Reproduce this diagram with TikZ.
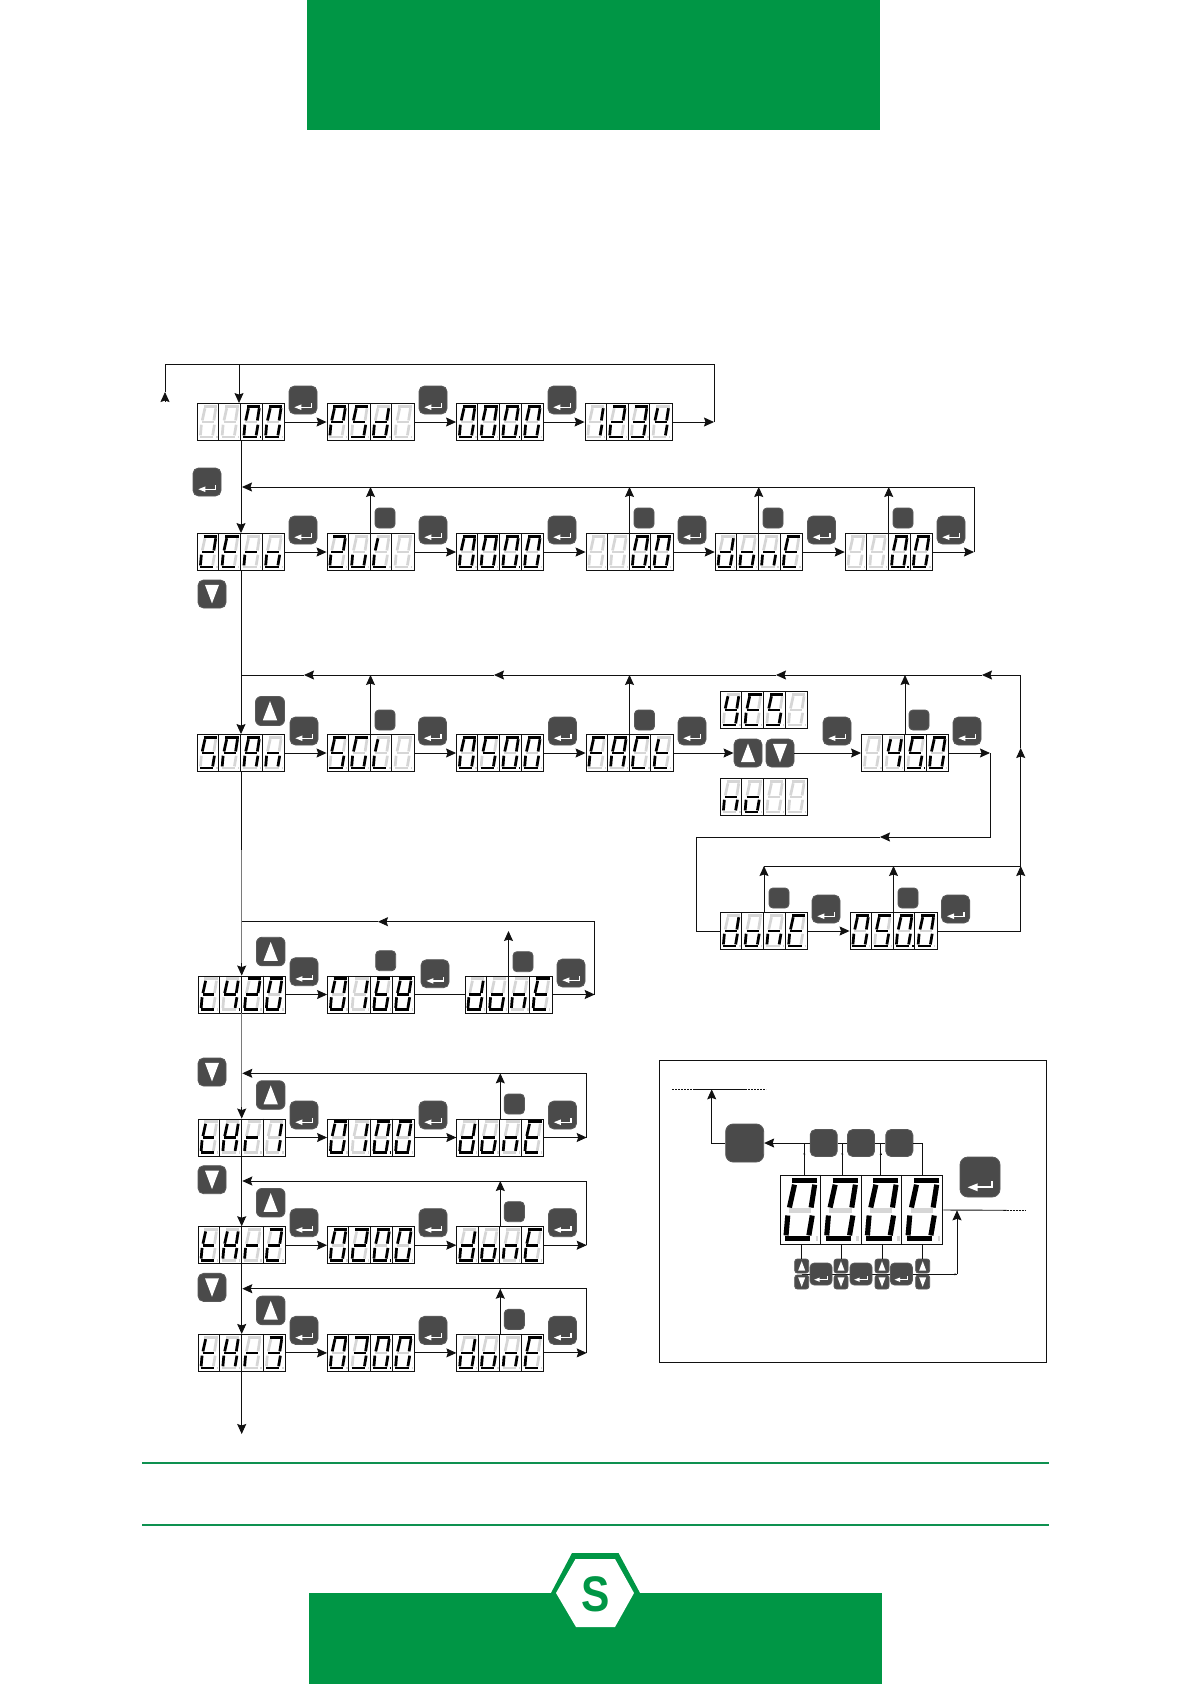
\documentclass[tikz,border=0pt]{standalone}
\usepackage{fontspec}
\usepackage{tikz}
\usetikzlibrary{positioning,arrows.meta,calc,shapes.geometric}
\newfontfamily\logofont{Liberation Sans}
\definecolor{cGreen}{HTML}{009645}
\definecolor{cRule}{HTML}{0E9150}
\definecolor{cKey}{HTML}{4A4A4A}
\definecolor{cOff}{HTML}{D6D6D6}
\definecolor{cInk}{HTML}{111111}
\definecolor{cPale}{HTML}{7A7A7A}
% segments of one cell, origin at its top left
\newcommand{\sega}{(6.6,3.2) -- (19.9,3.2)}
\newcommand{\segb}{(18.7,5.2) -- (16.8,17.4)}
\newcommand{\segc}{(17.4,21.7) -- (15.6,32.3)}
\newcommand{\segd}{(2.9,34) -- (16.3,34)}
\newcommand{\sege}{(4.3,21.7) -- (3.4,32.3)}
\newcommand{\segf}{(7.9,5.2) -- (5.2,17.4)}
\newcommand{\segg}{(4.8,19) -- (16.7,19)}
\newcommand{\segp}{(19.2,34) -- (20.6,34)}
\newcommand{\segn}{(0,0)}
\newcommand{\gNone}{n}
\newcommand{\gO}{a,b,c,d,e,f}
\newcommand{\gOd}{a,b,c,d,e,f,p}
\newcommand{\gOne}{b,c}
\newcommand{\gTwo}{a,b,g,e,d}
\newcommand{\gThree}{a,b,g,c,d}
\newcommand{\gFour}{f,g,b,c}
\newcommand{\gFourd}{f,g,b,c,p}
\newcommand{\gFive}{a,f,g,c,d}
\newcommand{\gFived}{a,f,g,c,d,p}
\newcommand{\gSix}{a,f,g,e,c,d}
\newcommand{\gEight}{a,b,c,d,e,f,g}
\newcommand{\gA}{a,b,c,e,f,g}
\newcommand{\gC}{a,d,e,f}
\newcommand{\gD}{b,c,d,e,g}
\newcommand{\gE}{a,d,e,f,g}
\newcommand{\gF}{a,e,f,g}
\newcommand{\gG}{a,c,d,e,f}
\newcommand{\gH}{b,c,e,f,g}
\newcommand{\gL}{d,e,f}
\newcommand{\gN}{c,e,g}
\newcommand{\gLo}{c,d,e,g}
\newcommand{\gP}{a,b,e,f,g}
\newcommand{\gR}{e,g}
\newcommand{\gT}{d,e,f,g}
\newcommand{\gU}{c,d,e}
\newcommand{\gY}{b,c,d,f,g}
\newcommand{\lcdcell}[2]{%
  \begin{scope}[xshift=#1*21.75pt]
    \foreach \s in {a,b,c,d,e,f,g,p}{\draw[cOff] \csname seg\s\endcsname;}
    \foreach \s in #2 {\draw[black] \csname seg\s\endcsname;}
  \end{scope}}
\newcommand{\lcd}[8][1]{%
  \node[lcdbox,minimum width=#1*87pt,minimum height=#1*37pt] (#2) at (#3,#4) {};
  \begin{scope}[shift={(#2.north west)},scale=#1,line width=#1*2.7pt]
    \lcdcell{0}{#5}\lcdcell{1}{#6}\lcdcell{2}{#7}\lcdcell{3}{#8}
    \foreach \k in {1,2,3}
      \draw[cInk,line width=.9pt] (\k*21.75,0) -- (\k*21.75,37);
  \end{scope}}
\begin{document}
\begin{tikzpicture}[x=1pt,y=-1pt,line width=.9pt,
    lcdbox/.style={draw=cInk,fill=white,inner sep=0pt,line width=.9pt},
    arr/.style={cInk,-{Stealth[length=10pt,width=9pt,inset=1.5pt]}},
    ln/.style={cInk},
    pale/.style={cPale,line width=1.2pt},
    dots/.style={cInk,line width=.6pt,dash pattern=on 2pt off 1pt},
    tiny/.style={cInk,line width=.4pt,-{Stealth[length=2.5pt,width=2pt]}},
    glyph/.style={sharp corners,shift={(path picture bounding box.center)},x=#1*.025pt,y=-#1*.025pt},
    btn/.style={draw=black!65,fill=cKey,inner sep=0pt,minimum size=#1*1pt,rounded corners=#1*.2pt},
    btnenter/.style={btn=#1,path picture={
      \begin{scope}[glyph=#1]
        \fill[white] (-12.3,10.3) -- (-2.3,6.3) -- (-2.3,14.3) -- cycle;
        \draw[white,line width=#1*.05pt] (-3,10.3) -- (12,10.3) -- (12,4);
      \end{scope}}},
    btnup/.style={btn=#1,path picture={
      \begin{scope}[glyph=#1]
        \fill[white] (0,-13.5) -- (10,13) -- (-10,13) -- cycle;
      \end{scope}}},
    btndown/.style={btn=#1,path picture={
      \begin{scope}[glyph=#1]
        \fill[white] (0,13.5) -- (10,-13) -- (-10,-13) -- cycle;
      \end{scope}}}]
  \useasboundingbox (0,0) rectangle (1191,1684);
  \fill[white] (0,0) rectangle (1191,1684);
  % page furniture
  \fill[cGreen] (307,0) rectangle (880,130);
  \fill[cGreen] (309,1593) rectangle (882,1684);
  \draw[cRule,line width=2pt] (142,1463) -- (1049,1463);
  \draw[cRule,line width=2pt] (142,1525) -- (1049,1525);
  \fill[cGreen] (551,1593) -- (572,1553) -- (618.5,1553) -- (640,1593) -- cycle;
  \fill[white] (556,1593) -- (575.5,1559) -- (615,1559) -- (634,1593) -- (615,1627) -- (576,1627) -- cycle;
  \node[text=cGreen,inner sep=0pt,font=\fontsize{50}{50}\logofont\bfseries,xscale=.85] (logoS) at (596,1594) {S};

  % password row
  \lcd{dIdle}{241}{422}{\gNone}{\gNone}{\gOd}{\gO}
  \lcd{dPsd}{370.5}{422}{\gP}{\gFive}{\gD}{\gNone}
  \lcd{dPass}{500}{422}{\gO}{\gO}{\gOd}{\gO}
  \lcd{dCode}{628.5}{422}{\gOne}{\gTwo}{\gThree}{\gFour}
  \foreach \i/\x in {1/303,2/433,3/562}
    \node[btnenter=28] (kPsd\i) at (\x,400) {};
  \node[btnenter=28] (kZero) at (207,482) {};
  \coordinate (cTopL) at (165,364);
  \coordinate (cTopA) at (239,364);
  \coordinate (cTopR) at (714,364);
  \coordinate (cEndP) at (714,422);
  \coordinate (cBack) at (165,392);
  \draw[arr] (dIdle.east) -- (dPsd.west);
  \draw[arr] (dPsd.east) -- (dPass.west);
  \draw[arr] (dPass.east) -- (dCode.west);
  \draw[arr] (dCode.east) -- (cEndP);
  \draw[ln] (cEndP) -- (cTopR) -- (cTopL) -- (cBack);
  \draw[arr] ($(cBack)+(0,10)$) -- (cBack);
  \draw[arr] (cTopA) -- (cTopA |- dIdle.north);

  % zero row
  \lcd{dZero}{241}{552}{\gTwo}{\gE}{\gR}{\gLo}
  \lcd{dZol}{370.5}{552}{\gTwo}{\gU}{\gL}{\gNone}
  \lcd{dZval}{500}{552}{\gO}{\gO}{\gOd}{\gO}
  \lcd{dZnew}{629.5}{552}{\gNone}{\gNone}{\gOd}{\gO}
  \lcd{dZdone}{758.7}{552}{\gD}{\gLo}{\gN}{\gE}
  \lcd{dZend}{888.7}{552}{\gNone}{\gNone}{\gOd}{\gO}
  \foreach \i/\x in {1/303,2/433,3/562,4/692,5/821.5,6/951}
    \node[btnenter=28] (kZ\i) at (\x,530) {};
  \foreach \i/\x in {1/385,2/644,3/773,4/903}
    \node[btn=20] (pZ\i) at (\x,518) {};
  \node[btndown=28] (kSpan) at (212,594) {};
  \coordinate (cZeroR) at (974,552);
  \coordinate (cZeroT) at (974,487);
  \coordinate (cZeroL) at (242,487);
  \draw[arr] (dIdle.south) -- (dZero.north);
  \draw[arr] (dZero.east) -- (dZol.west);
  \draw[arr] (dZol.east) -- (dZval.west);
  \draw[arr] (dZval.east) -- (dZnew.west);
  \draw[arr] (dZnew.east) -- (dZdone.west);
  \draw[arr] (dZdone.east) -- (dZend.west);
  \draw[arr] (dZend.east) -- (cZeroR);
  \draw[arr] (cZeroR) -- (cZeroT) -- (cZeroL);
  \foreach \d in {dZol,dZnew,dZdone,dZend}
    \draw[arr] (\d.north) -- (\d.north |- cZeroL);

  % span row
  \lcd{dSpan}{241}{753}{\gFive}{\gP}{\gA}{\gN}
  \lcd{dSol}{370.5}{753}{\gFive}{\gG}{\gL}{\gNone}
  \lcd{dSval}{500}{753}{\gO}{\gFive}{\gOd}{\gO}
  \lcd{dFact}{629.5}{753}{\gF}{\gA}{\gC}{\gT}
  \lcd{dYes}{764}{710}{\gY}{\gE}{\gFive}{\gNone}
  \lcd{dNo}{764}{797}{\gN}{\gLo}{\gNone}{\gNone}
  \lcd{dFor}{905}{753}{\gNone}{\gFour}{\gFived}{\gO}
  \lcd{dSdone}{764}{931}{\gD}{\gLo}{\gN}{\gE}
  \lcd{dSend}{893.5}{931}{\gO}{\gFive}{\gOd}{\gO}
  \foreach \i/\x in {1/304,2/432.5,3/562.5,4/692,5/837,6/967}
    \node[btnenter=28] (kS\i) at (\x,731) {};
  \foreach \i/\x in {1/385,2/644.5,3/919}
    \node[btn=20] (pS\i) at (\x,720) {};
  \node[btnup=29] (kUpS) at (270,711) {};
  \node[btnup=28] (kYes) at (748,753) {};
  \node[btndown=28] (kNo) at (780,753) {};
  \node[btnenter=28] (kS7) at (826,909) {};
  \node[btnenter=28] (kS8) at (955.6,909) {};
  \node[btn=20] (pS4) at (779,898) {};
  \node[btn=20] (pS5) at (908,898) {};
  \coordinate (cJog) at (990,753);
  \coordinate (cJogB) at (990,837);
  \coordinate (cJogM) at (880,837);
  \coordinate (cJogL) at (696.7,837);
  \coordinate (cLowR) at (1020.7,931);
  \coordinate (cLowM) at (1020.7,866);
  \coordinate (cUpM) at (1020.7,748);
  \coordinate (cUpT) at (1020.7,675);
  \coordinate (cTa) at (982,675);
  \coordinate (cTb) at (776,675);
  \coordinate (cTc) at (494,675);
  \coordinate (cTd) at (304,675);
  \coordinate (cTe) at (241,675);
  \draw[arr] (dZero.south) -- (dSpan.north);
  \draw[arr] (dSpan.east) -- (dSol.west);
  \draw[arr] (dSol.east) -- (dSval.west);
  \draw[arr] (dSval.east) -- (dFact.west);
  \draw[arr] (dFact.east) -- (kYes.west);
  \draw[arr] (kNo.east) -- (dFor.west);
  \draw[arr] (dFor.east) -- (cJog);
  \draw[arr] (cJog) -- (cJogB) -- (cJogM);
  \draw[ln] (cJogM) -- (cJogL) |- (dSdone.west);
  \draw[arr] (dSdone.east) -- (dSend.west);
  \draw[arr] (dSend.east) -- (cLowR) -- (cLowM);
  \draw[arr] (cLowM) -- (cUpM);
  \draw[arr] (cUpM) -- (cUpT) -- (cTa);
  \draw[arr] (cTa) -- (cTb);
  \draw[arr] (cTb) -- (cTc);
  \draw[arr] (cTc) -- (cTd);
  \draw[ln] (cTd) -- (cTe);
  \foreach \d in {dSol,dFact,dFor}
    \draw[arr] (\d.north) -- (\d.north |- cTa);
  \draw[arr] (dSdone.north) -- (dSdone.north |- cLowM);
  \draw[arr] (dSend.north) -- (dSend.north |- cLowM);
  \draw[ln] (dSdone.north |- cLowM) -- (cLowM);

  % t4-20 row
  \lcd{dTf}{241.7}{994.5}{\gT}{\gFourd}{\gTwo}{\gO}
  \lcd{dTval}{371}{994.5}{\gO}{\gOne}{\gSix}{\gEight}
  \lcd{dTdone}{508.5}{994.5}{\gD}{\gLo}{\gN}{\gE}
  \node[btnup=28.5] (kUpT) at (270.7,951.5) {};
  \node[btnenter=28] (kT1) at (304,971.7) {};
  \node[btnenter=28] (kT2) at (435,973.7) {};
  \node[btnenter=28] (kT3) at (571,973) {};
  \node[btn=20] (pT1) at (385.7,960.7) {};
  \node[btn=20] (pT2) at (523,961.7) {};
  \coordinate (cMid) at (241.7,850);
  \coordinate (cTfH) at (241.7,963);
  \coordinate (cTfR) at (594.7,994.5);
  \coordinate (cTfT) at (594.7,921.7);
  \coordinate (cTfM) at (378,921.7);
  \coordinate (cTfL) at (241.7,921.7);
  \coordinate (cTdU) at (508.5,931);
  \draw[ln] (dSpan.south) -- (dSpan.south |- cMid);
  \draw[pale] (cMid) -- (cTfH);
  \draw[arr] (cTfH) -- (dTf.north);
  \draw[arr] (dTf.east) -- (dTval.west);
  \draw[ln] (dTval.east) -- (dTdone.west);
  \draw[arr] (dTdone.east) -- (cTfR);
  \draw[arr] (cTfR) -- (cTfT) -- (cTfM);
  \draw[ln] (cTfM) -- (cTfL);
  \draw[arr] (dTdone.north) -- (cTdU);

  % threshold rows
  \lcd{dThA}{241.7}{1137.5}{\gT}{\gH}{\gR}{\gOne}
  \lcd{dVaA}{371}{1137.5}{\gO}{\gOne}{\gOd}{\gO}
  \lcd{dDoA}{500.3}{1137.5}{\gD}{\gLo}{\gN}{\gE}
  \lcd{dThB}{241.7}{1245.2}{\gT}{\gH}{\gR}{\gTwo}
  \lcd{dVaB}{371}{1245.2}{\gO}{\gTwo}{\gOd}{\gO}
  \lcd{dDoB}{500.3}{1245.2}{\gD}{\gLo}{\gN}{\gE}
  \lcd{dThC}{241.7}{1352.9}{\gT}{\gH}{\gR}{\gThree}
  \lcd{dVaC}{371}{1352.9}{\gO}{\gThree}{\gOd}{\gO}
  \lcd{dDoC}{500.3}{1352.9}{\gD}{\gLo}{\gN}{\gE}
  \foreach \n/\yy in {A/0,B/107.7,C/215.4}{
    \node[btndown=28] (kDn\n) at (212,1072+\yy) {};
    \node[btnup=28.5] (kUp\n) at (270.7,1095+\yy) {};
    \node[btnenter=28] (kOne\n) at (304,1115+\yy) {};
    \node[btnenter=28] (kTwo\n) at (433,1115+\yy) {};
    \node[btnenter=28] (kThr\n) at (562.5,1115+\yy) {};
    \node[btn=20] (pDo\n) at (514.3,1104+\yy) {};
    \coordinate (cEnd\n) at (586.7,1137.5+\yy);
    \coordinate (cRet\n) at (586.7,1073.3+\yy);
    \coordinate (cLef\n) at (242.3,1073.3+\yy);
    \draw[arr] (dTh\n.east) -- (dVa\n.west);
    \draw[arr] (dVa\n.east) -- (dDo\n.west);
    \draw[arr] (dDo\n.east) -- (cEnd\n);
    \draw[arr] (cEnd\n) -- (cRet\n) -- (cLef\n);
    \draw[arr] (dDo\n.north) -- (dDo\n.north |- cRet\n);
  }
  \coordinate (cThH) at (241.7,1107);
  \coordinate (cOut) at (241.7,1434);
  \draw[pale] (dTf.south) -- (cThH);
  \draw[arr] (cThH) -- (dThA.north);
  \draw[arr] (dThA.south) -- (dThB.north);
  \draw[arr] (dThB.south) -- (dThC.north);
  \draw[arr] (dThC.south) -- (cOut);

  % legend panel
  \draw[cInk,line width=.9pt] (659.3,1060.3) rectangle (1046.7,1362.3);
  \coordinate (cLa) at (672,1089.3);
  \coordinate (cLb) at (694,1089.3);
  \coordinate (cLc) at (711.7,1089.3);
  \coordinate (cLd) at (745,1089.3);
  \coordinate (cLe) at (766,1089.3);
  \draw[dots] (cLa) -- (cLb);
  \draw[ln] (cLb) -- (cLd);
  \draw[dots] (cLd) -- (cLe);
  \coordinate (cSa) at (804.3,1143);
  \coordinate (cSb) at (842.3,1143);
  \coordinate (cSc) at (880.7,1143);
  \coordinate (cSd) at (922.7,1143);
  \coordinate (cVa) at (801.7,1274.3);
  \coordinate (cVb) at (957,1274.3);
  \draw[ln] (cVa) -- (cVb);
  \draw[tiny] ($(cVb)+(-4,0)$) -- (cVb);
  \lcd[1.87]{dBig}{861.5}{1210}{\gO}{\gO}{\gO}{\gO}
  \node[btn=38] (kBig) at (744.7,1143) {};
  \node[btnenter=40] (kEnt) at (980,1177) {};
  \foreach \i/\x in {1/823.7,2/861,3/899.3}
    \node[btn=27] (kP\i) at (\x,1143) {};
  \foreach \i/\x in {1/801.7,2/841,3/882,4/922.7}{
    \node[btnup=14] (kVu\i) at (\x,1266) {};
    \node[btndown=14] (kVd\i) at (\x,1282) {};
    \draw[ln] (dBig.south -| kVu\i) -- (kVu\i.north);
  }
  \foreach \i/\x in {1/821,2/861,3/901.3}
    \node[btnenter=22] (kE\i) at (\x,1274) {};
  \coordinate (cRa) at (1006.7,1210.3);
  \coordinate (cRb) at (1025,1210.3);
  \draw[ln] (dBig.east) -- (cRa);
  \draw[dots] (cRa) -- (cRb);
  \draw[arr] (cVb) -- (cVb |- cRa);
  \draw[arr] (kP1.west) -- (kBig.east);
  \draw[arr] (kBig.west) -| (cLc);
  \draw[ln] (kP1.east) -- (kP2.west);
  \draw[ln] (kP2.east) -- (kP3.west);
  \draw[ln] (kP3.east) -| (dBig.north -| cSd);
  \foreach \c in {cSa,cSb,cSc}{
    \draw[ln] (dBig.north -| \c) -- (\c);
    \draw[tiny] ($(\c)+(0,12)$) -- ($(\c)+(0,9)$);
  }
\end{tikzpicture}
\end{document}
